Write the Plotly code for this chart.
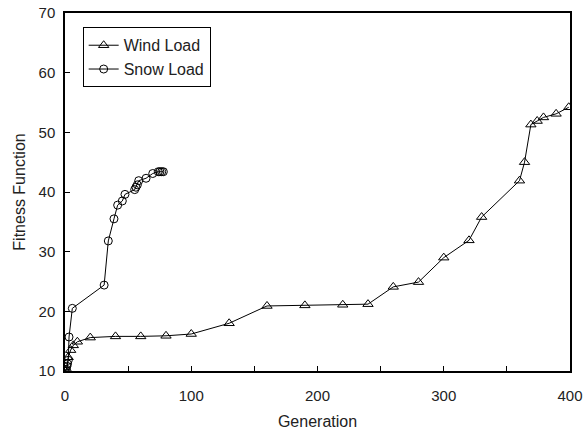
import plotly.graph_objects as go

wind_x = [0, 1.5, 2.5, 4.5, 6.6, 9.8, 20, 40, 60, 80, 100, 130, 160, 190, 220, 240,
          260, 280, 300, 320, 330, 360, 364, 369, 374, 379, 389, 399]
wind_y = [10, 10.2, 12.3, 13.5, 14.3, 14.9, 15.6, 15.8, 15.8, 15.9, 16.2, 18.0, 20.9, 21.0, 21.1, 21.2,
          24.1, 24.9, 29.0, 31.9, 35.8, 41.9, 45.0, 51.3, 51.9, 52.5, 53.1, 54.2]

snow_x = [0, 1, 1.5, 2, 2.6, 3.2, 5.8, 31, 34.3, 38.8, 41.7, 45.4, 47.5, 55.2, 56.2, 57.3,
          58.4, 64.2, 69.5, 73.9, 75.2, 76.6, 77.9]
snow_y = [10, 10.3, 10.8, 11.2, 11.8, 15.7, 20.5, 24.4, 31.8, 35.5, 37.8, 38.5, 39.6, 40.4, 40.8, 41.2,
          41.9, 42.3, 43.1, 43.4, 43.4, 43.4, 43.4]

x_range = [0, 400]
y_range = [10, 70]

font_family = "Liberation Sans, Arial, sans-serif"

fig = go.Figure()
fig.add_trace(go.Scatter(
    x=wind_x, y=wind_y, mode="lines+markers", name="Wind Load",
    line=dict(color="black", width=1),
    marker=dict(symbol="triangle-up-open", size=9, color="black", line=dict(width=1)),
))
fig.add_trace(go.Scatter(
    x=snow_x, y=snow_y, mode="lines+markers", name="Snow Load",
    line=dict(color="black", width=1),
    marker=dict(symbol="circle-open", size=8, color="black", line=dict(width=1)),
))

fig.update_layout(
    width=583, height=432,
    margin=dict(l=65, r=13, t=13, b=61),
    paper_bgcolor="white", plot_bgcolor="white",
    font=dict(family=font_family, size=15, color="#222"),
    showlegend=True,
    legend=dict(
        x=0.035, y=0.96, xanchor="left", yanchor="top",
        bordercolor="black", borderwidth=1, bgcolor="white",
        font=dict(size=16), tracegroupgap=0, itemwidth=30,
    ),
    xaxis=dict(
        range=x_range, dtick=100, tick0=0, showgrid=False, zeroline=False,
        showline=True, linecolor="black", linewidth=1.5, mirror=True,
        ticks="inside", ticklen=5, tickcolor="black", automargin=False,
        ticklabeloverflow="allow",
        minor=dict(dtick=50, ticks="inside", ticklen=5, tickcolor="black"),
        ticklabelstandoff=10,
        title=dict(text="Generation", font=dict(size=16), standoff=13),
        tickfont=dict(size=15),
    ),
    yaxis=dict(
        range=y_range, dtick=10, showgrid=False, zeroline=False,
        showline=True, linecolor="black", linewidth=1.5, mirror=True,
        ticks="inside", ticklen=5, tickcolor="black", automargin=False,
        ticklabeloverflow="allow",
        ticklabelstandoff=5,
        title=dict(text="Fitness Function", font=dict(size=16), standoff=9),
        tickfont=dict(size=15),
    ),
)

fig.write_html(
    "out.html",
    config={"displayModeBar": False},
    post_script="document.body.style.margin='0';document.body.style.overflow='hidden';",
)
